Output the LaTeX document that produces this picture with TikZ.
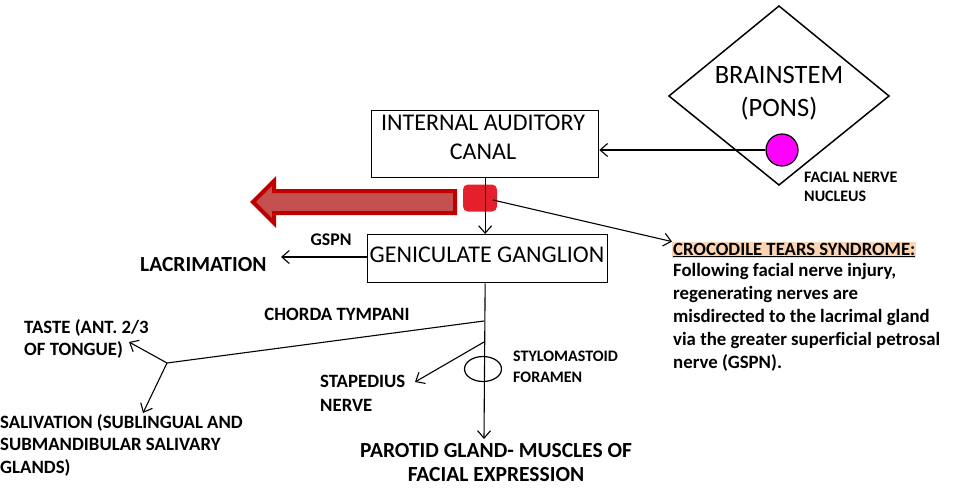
\documentclass[tikz,border=0pt]{standalone}
\usepackage{fontspec}
\setmainfont{Carlito}[Ligatures=NoCommon]
\usetikzlibrary{arrows.meta,shapes.geometric,calc}
\definecolor{nervered}{HTML}{C00000}
\definecolor{arrowfill}{HTML}{C4504F}
\definecolor{knot}{HTML}{E51F2B}
\definecolor{peach}{HTML}{FBD4B4}
\definecolor{nucleus}{HTML}{FF00FF}
\tikzset{
  box/.style={draw,line width=1.3pt,inner sep=0pt},
  boxtext/.style={font=\fontsize{24}{29}\selectfont,align=center,inner sep=0pt},
  lbl/.style={font=\bfseries\fontsize{18.8}{22.5}\selectfont,align=left,inner sep=0pt},
  small/.style={font=\bfseries\fontsize{16}{20}\selectfont,align=left,inner sep=0pt},
  big/.style={font=\bfseries\fontsize{21.5}{24}\selectfont,inner sep=0pt},
  conn/.style={line width=1.1pt,-{Straight Barb[length=7.5pt,width=13pt,line width=1.1pt]}},
  plain/.style={line width=1.1pt}
}
\begin{document}
\begin{tikzpicture}[x=1pt,y=-1pt]
\useasboundingbox (0,0) rectangle (954,490);
% brainstem diamond
\draw[line width=1.5pt] (779,6) -- (889,96) -- (779,185) -- (669,96) -- cycle;
\node[font=\fontsize{26.5}{33}\selectfont,align=center,inner sep=0pt] (bs) at (779,93) {BRAINSTEM\\(PONS)};
\node[circle,draw,line width=1.2pt,fill=nucleus,minimum size=32pt,inner sep=0pt] (nuc) at (782,150) {};
\node[small,font=\bfseries\fontsize{16}{19}\selectfont,anchor=west] (fnn) at (804,187) {FACIAL NERVE\\NUCLEUS};
% internal auditory canal
\node[box,minimum width=227pt,minimum height=67pt,anchor=north west] (iac) at (371,110) {};
\node[boxtext] (iact) at (483,137) {INTERNAL AUDITORY\\CANAL};
\draw[conn] (nuc.west) -- (nuc.west -| iac.east);
% big red arrow
\draw[draw=nervered,fill=arrowfill,line width=4pt,line join=miter]
  (455,191) -- (274,191) -- (274,181) -- (253,202) -- (274,223) -- (274,213) -- (455,213) -- cycle;
% red knot
\node[fill=knot,rounded corners=5pt,minimum width=34pt,minimum height=27pt,inner sep=0pt] (knot) at (480,198) {};
% geniculate ganglion
\node[box,minimum width=240pt,minimum height=48pt,anchor=north west] (gg) at (367,234) {};
\node[boxtext] (ggt) at (487,255) {GENICULATE GANGLION};
\draw[conn] (iac.south) -- (iac.south |- gg.north);
% crocodile tears
\node[fill=peach,inner sep=1pt,anchor=west,font=\bfseries\fontsize{18.7}{23}\selectfont] (croc) at (672,250) {\underline{CROCODILE TEARS SYNDROME:}};
\node[lbl,font=\bfseries\fontsize{18.8}{23}\selectfont,anchor=north west] (crocb) at (673,263) {Following facial nerve injury,\\regenerating nerves are\\misdirected to the lacrimal gland\\via the greater superficial petrosal\\nerve (GSPN).};
\draw[conn] ($(knot.center)+(13,2)$) -- (croc.north west);
% GSPN / lacrimation
\node[lbl,font=\bfseries\fontsize{17.8}{22}\selectfont] (gspn) at (331,240) {GSPN};
\node[big,anchor=west] (lac) at (140,265) {LACRIMATION};
\coordinate (lacend) at (281,257);
\draw[conn] (gg.west |- 0,257) -- (lacend);
% main trunk
\node[big,align=center] (par) at (496,463) {PAROTID GLAND- MUSCLES OF\\FACIAL EXPRESSION};
\coordinate (trunkend) at (484,439);
\draw[conn] (iac.south |- gg.south) -- (trunkend);
% chorda tympani
\node[lbl] (ct) at (337,314) {CHORDA TYMPANI};
\coordinate (ctstart) at (484,321);
\coordinate (junc) at (167,363);
\draw[plain] (ctstart) -- (junc);
\node[lbl,anchor=west] (taste) at (24,339) {TASTE (ANT. 2/3\\OF TONGUE)};
\coordinate (tasteend) at (129,342);
\draw[conn] (junc) -- (tasteend);
\node[lbl,anchor=west] (sal) at (0,445) {SALIVATION (SUBLINGUAL AND\\SUBMANDIBULAR SALIVARY\\GLANDS)};
\coordinate (salend) at (143,413);
\draw[conn] (junc) -- (salend);
% stapedius
\coordinate (stst) at (484,342);
\coordinate (stend) at (415,382);
\draw[conn] (stst) -- (stend);
\node[lbl,font=\bfseries\fontsize{18.8}{24}\selectfont,anchor=west] (stap) at (320,393) {STAPEDIUS\\NERVE};
% stylomastoid foramen
\node[ellipse,draw,line width=1.2pt,minimum width=37pt,minimum height=25pt,inner sep=0pt] (sf) at (483,369) {};
\node[small,font=\bfseries\fontsize{16}{21}\selectfont,anchor=west] (sft) at (513,367) {STYLOMASTOID\\FORAMEN};
\end{tikzpicture}
\end{document}
